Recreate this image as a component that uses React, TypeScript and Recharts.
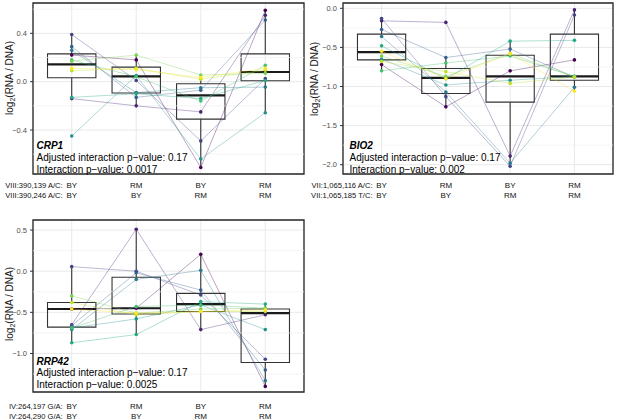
import React from 'react';
import {
  ComposedChart,
  Line,
  XAxis,
  YAxis,
  CartesianGrid,
  ReferenceArea,
  ReferenceLine,
} from 'recharts';

const FONT = '"Liberation Sans", Arial, Helvetica, sans-serif';

// ---- shared categories ----
const POSITIONS = [1, 2, 3, 4];
const GENOTYPE_TOP = ['BY', 'RM', 'BY', 'RM'];
const GENOTYPE_BOTTOM = ['BY', 'BY', 'RM', 'RM'];
const SAMPLE_COLORS = [
  '#440154', '#482475', '#414487', '#355f8d', '#2a788e', '#21918c',
  '#22a884', '#44bf70', '#7ad151', '#bddf26', '#fde725',
];

// ---- CRP1 ----
const CRP1_SNPS = ['VIII:390,139 A/C:', 'VIII:390,246 A/C:'];
const CRP1_VALUES = [
  [0.22, 0.18, -0.71, 0.59],
  [-0.14, -0.2, -0.25, 0.55],
  [0.39, 0.01, -0.49, 0.025],
  [0.29, -0.13, -0.07, 0.51],
  [0.26, -0.09, -0.05, -0.045],
  [-0.45, 0.05, -0.64, -0.257],
  [-0.13, -0.1, -0.14, 0.01],
  [0.18, 0.04, -0.16, 0.135],
  [0.17, 0.22, 0.055, 0.07],
  [0.09, 0.11, 0.02, 0.094],
  [0.11, 0.1, 0.035, 0.11],
];
const CRP1_LO = [-0.14, -0.2, -0.71, -0.257];
const CRP1_Q1 = [0.033, -0.094, -0.31, 0.008];
const CRP1_MED = [0.143, 0.044, -0.113, 0.08];
const CRP1_Q3 = [0.23, 0.12, -0.017, 0.23];
const CRP1_HI = [0.39, 0.22, 0.055, 0.59];
const CRP1_TICKS = [-0.4, 0, 0.4];
const CRP1_MINOR = [-0.6, -0.2, 0.2, 0.6];

// ---- BIO2 ----
const BIO2_SNPS = ['VII:1,065,116 A/C:', 'VII:1,065,185 T/C:'];
const BIO2_VALUES = [
  [-0.72, -1.26, -0.8, -0.66],
  [-0.16, -0.18, -1.89, -0.02],
  [-0.13, -1.13, -2.02, -0.085],
  [-0.27, -0.63, -0.52, -0.88],
  [-0.36, -1.07, -1.98, -1.01],
  [-0.65, -0.98, -0.92, -0.87],
  [-0.48, -0.9, -0.42, -0.41],
  [-0.8, -0.7, -0.61, -0.87],
  [-0.61, -0.87, -0.58, -0.88],
  [-0.68, -0.81, -0.96, -0.88],
  [-0.55, -0.9, -0.58, -1.06],
];
const BIO2_LO = [-0.8, -1.26, -2.02, -1.06];
const BIO2_Q1 = [-0.66, -1.09, -1.2, -0.92];
const BIO2_MED = [-0.56, -0.89, -0.87, -0.87];
const BIO2_Q3 = [-0.33, -0.77, -0.6, -0.33];
const BIO2_HI = [-0.13, -0.63, -0.42, -0.02];
const BIO2_TICKS = [-2, -1.5, -1, -0.5, 0];
const BIO2_MINOR = [-1.75, -1.25, -0.75, -0.25];

// ---- RRP42 ----
const RRP42_SNPS = ['IV:264,197 G/A:', 'IV:264,290 G/A:'];
const RRP42_VALUES = [
  [-0.46, -0.45, 0.205, -1.4],
  [-0.65, 0.51, -0.71, -0.53],
  [0.055, 0.0, -0.29, -1.07],
  [-0.66, -0.02, -0.23, -1.2],
  [-0.71, -0.1, 0.01, -1.33],
  [-0.69, -0.58, -0.41, -0.71],
  [-0.87, -0.77, -0.37, -0.4],
  [-0.69, -0.43, -0.41, -0.45],
  [-0.3, -0.51, -0.46, -0.45],
  [-0.38, -0.53, -0.49, -0.49],
  [-0.46, -0.51, -0.49, -0.47],
];
const RRP42_LO = [-0.87, -0.77, -0.71, -1.4];
const RRP42_Q1 = [-0.68, -0.52, -0.49, -1.11];
const RRP42_MED = [-0.46, -0.45, -0.4, -0.51];
const RRP42_Q3 = [-0.38, -0.074, -0.27, -0.46];
const RRP42_HI = [0.055, 0.51, 0.205, -0.4];
const RRP42_TICKS = [-1, -0.5, 0, 0.5];
const RRP42_MINOR = [-1.25, -0.75, -0.25, 0.25];

const BOX_HALF = 0.375;
const X_DOMAIN: [number, number] = [0.4, 4.6];

const fmt = (v: number) => v.toFixed(1).replace('-', '\u2212');

type PanelCfg = {
  left: number;
  top: number;
  width: number;
  height: number;
  margin: { top: number; right: number; bottom: number; left: number };
  xh: number;
  rows: [number, number];
  snps: string[];
  values: number[][];
  lo: number[];
  q1: number[];
  med: number[];
  q3: number[];
  hi: number[];
  domain: [number, number];
  ticks: number[];
  minor: number[];
};

function Panel({ cfg }: { cfg: PanelCfg }) {
  const data = POSITIONS.map((x, i) => {
    const row: Record<string, number> = { x };
    cfg.values.forEach((s, j) => {
      row['s' + j] = s[i];
    });
    return row;
  });

  const renderTick = (props: any) => {
    const { x, payload } = props;
    const i = POSITIONS.indexOf(payload.value);
    const common = {
      fontFamily: FONT,
      fill: '#111111',
      dominantBaseline: 'central' as const,
    };
    return (
      <g>
        {i === 0 && (
          <>
            <text x={x - 9} y={cfg.rows[0]} textAnchor="end" fontSize={7.6} {...common}>
              {cfg.snps[0]}
            </text>
            <text x={x - 9} y={cfg.rows[1]} textAnchor="end" fontSize={7.6} {...common}>
              {cfg.snps[1]}
            </text>
          </>
        )}
        <text x={x} y={cfg.rows[0]} textAnchor="middle" fontSize={8} {...common}>
          {GENOTYPE_TOP[i]}
        </text>
        <text x={x} y={cfg.rows[1]} textAnchor="middle" fontSize={8} {...common}>
          {GENOTYPE_BOTTOM[i]}
        </text>
      </g>
    );
  };

  return (
    <div style={{ position: 'absolute', left: cfg.left, top: cfg.top }}>
      <ComposedChart width={cfg.width} height={cfg.height} data={data} margin={cfg.margin}>
        {cfg.minor.map((v) => (
          <ReferenceLine key={'minor' + v} y={v} stroke="#f1f1f1" strokeWidth={0.7} />
        ))}
        <CartesianGrid stroke="#e6e6e6" strokeWidth={0.9} />
        <XAxis
          dataKey="x"
          type="number"
          domain={X_DOMAIN}
          ticks={POSITIONS}
          interval={0}
          tick={renderTick}
          axisLine={false}
          tickLine={false}
          height={cfg.xh}
          allowDataOverflow
        />
        <YAxis
          type="number"
          domain={cfg.domain}
          ticks={cfg.ticks}
          interval={0}
          width={33}
          tick={{ fontSize: 7.5, fill: '#4d4d4d', fontFamily: FONT }}
          tickFormatter={fmt}
          tickLine={{ stroke: '#333333' }}
          tickSize={3}
          tickMargin={3}
          axisLine={false}
          allowDataOverflow
        />
        {POSITIONS.map((p, i) => (
          <ReferenceLine
            key={'wl' + i}
            segment={[{ x: p, y: cfg.lo[i] }, { x: p, y: cfg.q1[i] }]}
            stroke="#333333"
            strokeWidth={1.1}
          />
        ))}
        {POSITIONS.map((p, i) => (
          <ReferenceLine
            key={'wh' + i}
            segment={[{ x: p, y: cfg.q3[i] }, { x: p, y: cfg.hi[i] }]}
            stroke="#333333"
            strokeWidth={1.1}
          />
        ))}
        {POSITIONS.map((p, i) => (
          <ReferenceArea
            key={'box' + i}
            x1={p - BOX_HALF}
            x2={p + BOX_HALF}
            y1={cfg.q1[i]}
            y2={cfg.q3[i]}
            fill="none"
            fillOpacity={0}
            stroke="#333333"
            strokeOpacity={1}
            strokeWidth={1.1}
          />
        ))}
        {POSITIONS.map((p, i) => (
          <ReferenceLine
            key={'med' + i}
            segment={[{ x: p - BOX_HALF, y: cfg.med[i] }, { x: p + BOX_HALF, y: cfg.med[i] }]}
            stroke="#1a1a1a"
            strokeWidth={2.1}
          />
        ))}
        {cfg.values.map((_, j) => {
          const color = SAMPLE_COLORS[j % SAMPLE_COLORS.length];
          return (
            <Line
              key={'s' + j}
              dataKey={'s' + j}
              type="linear"
              stroke={color}
              strokeOpacity={0.45}
              strokeWidth={0.8}
              isAnimationActive={false}
              activeDot={false}
              dot={(d: any) => (
                <circle key={'d' + j + '-' + d.index} cx={d.cx} cy={d.cy} r={1.8} fill={color} stroke="none" />
              )}
            />
          );
        })}
        <ReferenceArea
          x1={X_DOMAIN[0]}
          x2={X_DOMAIN[1]}
          y1={cfg.domain[0]}
          y2={cfg.domain[1]}
          fill="none"
          fillOpacity={0}
          stroke="#262626"
          strokeOpacity={1}
          strokeWidth={1.3}
        />
      </ComposedChart>
    </div>
  );
}

const PANELS: PanelCfg[] = [
  {
    left: 0, top: 0, width: 310, height: 200,
    margin: { top: 3, right: 6, bottom: 0, left: 0 }, xh: 26, rows: [185, 195.5],
    snps: CRP1_SNPS, values: CRP1_VALUES,
    lo: CRP1_LO, q1: CRP1_Q1, med: CRP1_MED, q3: CRP1_Q3, hi: CRP1_HI,
    domain: [-0.764, 0.651], ticks: CRP1_TICKS, minor: CRP1_MINOR,
  },
  {
    left: 305, top: 0, width: 312, height: 200,
    margin: { top: 3, right: 4, bottom: 0, left: 5 }, xh: 26, rows: [185, 195.5],
    snps: BIO2_SNPS, values: BIO2_VALUES,
    lo: BIO2_LO, q1: BIO2_Q1, med: BIO2_MED, q3: BIO2_Q3, hi: BIO2_HI,
    domain: [-2.119, 0.068], ticks: BIO2_TICKS, minor: BIO2_MINOR,
  },
  {
    left: 0, top: 215, width: 310, height: 205,
    margin: { top: 5, right: 6, bottom: 0, left: 0 }, xh: 28, rows: [191, 201.5],
    snps: RRP42_SNPS, values: RRP42_VALUES,
    lo: RRP42_LO, q1: RRP42_Q1, med: RRP42_MED, q3: RRP42_Q3, hi: RRP42_HI,
    domain: [-1.468, 0.622], ticks: RRP42_TICKS, minor: RRP42_MINOR,
  },
];

const ANNOTATIONS = [
  { x: 36.5, y: 149.3, gene: 'CRP1', adj: '0.17', p: '0.0017' },
  { x: 349.5, y: 149.3, gene: 'BIO2', adj: '0.17', p: '0.002' },
  { x: 36.5, y: 364.8, gene: 'RRP42', adj: '0.17', p: '0.0025' },
];

const YLABELS = [
  { x: 9, y: 78 },
  { x: 314, y: 79 },
  { x: 9, y: 304 },
];

function YLabel({ x, y }: { x: number; y: number }) {
  return (
    <text
      x={x}
      y={y}
      transform={`rotate(-90 ${x} ${y})`}
      textAnchor="middle"
      dominantBaseline="central"
      fontSize={10}
      fontFamily={FONT}
      fill="#1a1a1a"
    >
      log
      <tspan fontSize={7} dy={2.5}>2</tspan>
      <tspan dy={-2.5}>(RNA / DNA)</tspan>
    </text>
  );
}

export default function App() {
  return (
    <div
      style={{
        position: 'relative',
        width: 617,
        height: 420,
        background: '#ffffff',
        overflow: 'hidden',
        fontFamily: FONT,
      }}
    >
      <style>{'body{margin:0;}'}</style>
      {PANELS.map((cfg, i) => (
        <Panel key={i} cfg={cfg} />
      ))}
      <svg
        width={617}
        height={420}
        style={{ position: 'absolute', left: 0, top: 0, pointerEvents: 'none' }}
      >
        {ANNOTATIONS.map((a) => (
          <g key={a.gene} fontFamily={FONT} fontSize={10} fill="#000000">
            <text x={a.x} y={a.y} fontWeight="bold" fontStyle="italic">
              {a.gene}
            </text>
            <text x={a.x} y={a.y + 11.6}>
              {'Adjusted interaction p\u2212value: ' + a.adj}
            </text>
            <text x={a.x} y={a.y + 23.2}>
              {'Interaction p\u2212value: ' + a.p}
            </text>
          </g>
        ))}
        {YLABELS.map((l, i) => (
          <YLabel key={i} x={l.x} y={l.y} />
        ))}
      </svg>
    </div>
  );
}
